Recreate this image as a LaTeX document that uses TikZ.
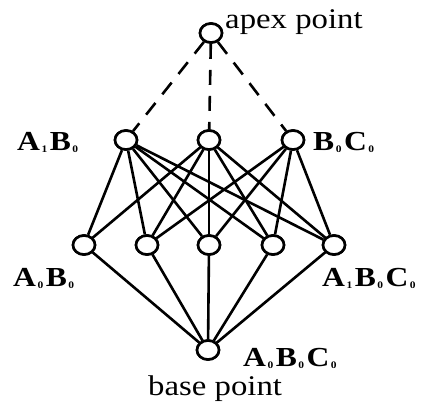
\documentclass[tikz,border=0pt]{standalone}
\usepackage{fontspec}
\setmainfont{Liberation Serif}
\newfontfamily\labfont[FakeStretch=1.15]{Liberation Serif}
\usetikzlibrary{shapes.geometric}
\tikzset{
  pt/.style={ellipse,draw,line width=2.6bp,minimum width=22bp,minimum height=19bp,inner sep=0pt,fill=white},
  edge/.style={line width=2.6bp},
  dashedge/.style={line width=2.6bp,dash pattern=on 15bp off 11bp},
  lab/.style={font=\fontsize{27.5bp}{30bp}\labfont\bfseries,inner sep=0pt},
  word/.style={font=\fontsize{28.5bp}{32bp}\labfont,inner sep=0pt}
}
\newcommand{\sbs}[1]{\hspace{1.5bp}\raisebox{-2.5bp}{\fontsize{10bp}{11bp}\selectfont #1}\hspace{2.5bp}}
\begin{document}
\begin{tikzpicture}[x=1bp,y=-1bp]
\useasboundingbox (0,0) rectangle (437,409);
% nodes
\node[pt] (apex) at (211,33) {};
\node[pt] (L) at (126,140) {};
\node[pt] (M) at (209,140) {};
\node[pt] (R) at (293,140) {};
\node[pt] (b1) at (84,245) {};
\node[pt] (b2) at (147,245) {};
\node[pt] (b3) at (209,245) {};
\node[pt] (b4) at (273,245) {};
\node[pt] (b5) at (334,245) {};
\node[pt] (base) at (208,350) {};
% edges
\foreach \u in {L,M,R} \draw[dashedge] (apex) -- (\u);
\foreach \v in {b1,b2,b3,b4,b5} {\draw[edge] (L) -- (\v); \draw[edge] (M) -- (\v); \draw[edge] (\v) -- (base);}
\foreach \v in {b2,b3,b4,b5} \draw[edge] (R) -- (\v);
% redraw circles on top
\foreach \p in {(211,33),(126,140),(209,140),(293,140),(84,245),(147,245),(209,245),(273,245),(334,245),(208,350)}
  \node[pt] at \p {};
% labels
\node[word,anchor=base west] (apexlab) at (225,28) {apex point};
\node[lab,anchor=base west] (l1) at (17,150) {A\sbs{1}B\sbs{0}};
\node[lab,anchor=base west] (l2) at (313,150) {B\sbs{0}C\sbs{0}};
\node[lab,anchor=base west] (l3) at (13,286) {A\sbs{0}B\sbs{0}};
\node[lab,anchor=base west] (l4) at (322,286) {A\sbs{1}B\sbs{0}C\sbs{0}};
\node[lab,anchor=base west] (l5) at (243,366) {A\sbs{0}B\sbs{0}C\sbs{0}};
\node[word,anchor=base west] (baselab) at (148,395) {base point};
\end{tikzpicture}
\end{document}
